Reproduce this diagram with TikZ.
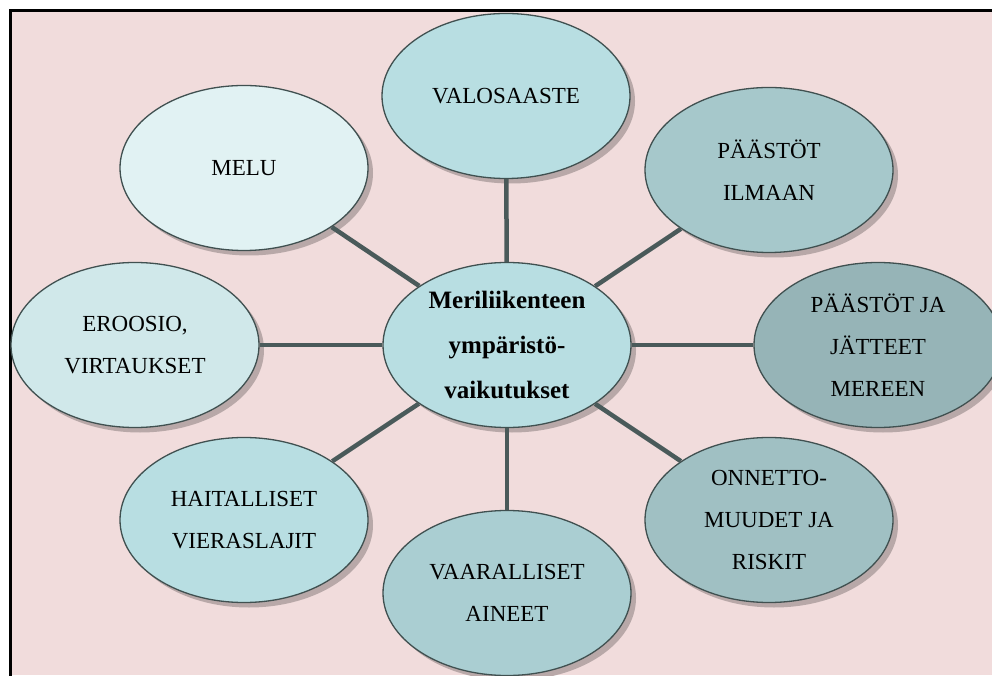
\documentclass[tikz,border=0pt]{standalone}
\usepackage{fontspec}
\setmainfont{Liberation Serif}
\usetikzlibrary{shapes.geometric,shadows}
\begin{document}
\begin{tikzpicture}[x=1pt,y=1pt,
  bubble/.style={ellipse,draw=edgeColor,line width=1.3pt,inner sep=0pt,
    minimum width=248pt,minimum height=165pt,align=center,
    font=\fontsize{23}{42}\selectfont,
    drop shadow={shadow xshift=5pt,shadow yshift=-5pt,fill=shadowColor,opacity=1}},
  spoke/.style={draw=lineColor,line width=4.5pt}]
\definecolor{fillColor}{RGB}{255,255,255}
\definecolor{bgColor}{RGB}{241,220,220}
\definecolor{edgeColor}{RGB}{64,80,80}
\definecolor{lineColor}{RGB}{74,90,90}
\definecolor{shadowColor}{RGB}{184,168,168}
\definecolor{meluColor}{RGB}{225,242,243}
\definecolor{erooColor}{RGB}{208,232,234}
\definecolor{aquaColor}{RGB}{184,222,226}
\definecolor{vaarColor}{RGB}{170,206,210}
\definecolor{ilmaColor}{RGB}{166,200,203}
\definecolor{onneColor}{RGB}{160,192,195}
\definecolor{mereColor}{RGB}{150,180,183}
\path[use as bounding box,fill=fillColor] (0,0) rectangle (992,675);
\begin{scope}
\path[clip] (0,0) rectangle (992,675);

\path[fill=bgColor] (10,0) rectangle (992,664);
\path[draw=black,line width=3pt] (10.5,-5) -- (10.5,664) -- (1000,664);

\node[bubble,fill=aquaColor,font=\fontsize{25}{45}\selectfont\bfseries] (hub) at (507,330) {Meriliikenteen\\ympäristö-\\vaikutukset};

\node[bubble,fill=aquaColor] (valo) at (506,579) {VALOSAASTE};
\node[bubble,fill=ilmaColor] (ilma) at (769,505) {PÄÄSTÖT\\ILMAAN};
\node[bubble,fill=mereColor] (meri) at (878,330) {PÄÄSTÖT JA\\JÄTTEET\\MEREEN};
\node[bubble,fill=onneColor] (onne) at (769,155) {ONNETTO-\\MUUDET JA\\RISKIT};
\node[bubble,fill=vaarColor] (vaar) at (507,82) {VAARALLISET\\AINEET};
\node[bubble,fill=aquaColor] (hait) at (244,155) {HAITALLISET\\VIERASLAJIT};
\node[bubble,fill=erooColor] (eroo) at (135,330) {EROOSIO,\\VIRTAUKSET};
\node[bubble,fill=meluColor] (melu) at (244,507) {MELU};

\foreach \leaf in {valo,ilma,meri,onne,vaar,hait,eroo,melu}
  \path[spoke] (hub) -- (\leaf);
\end{scope}
\end{tikzpicture}
\end{document}
